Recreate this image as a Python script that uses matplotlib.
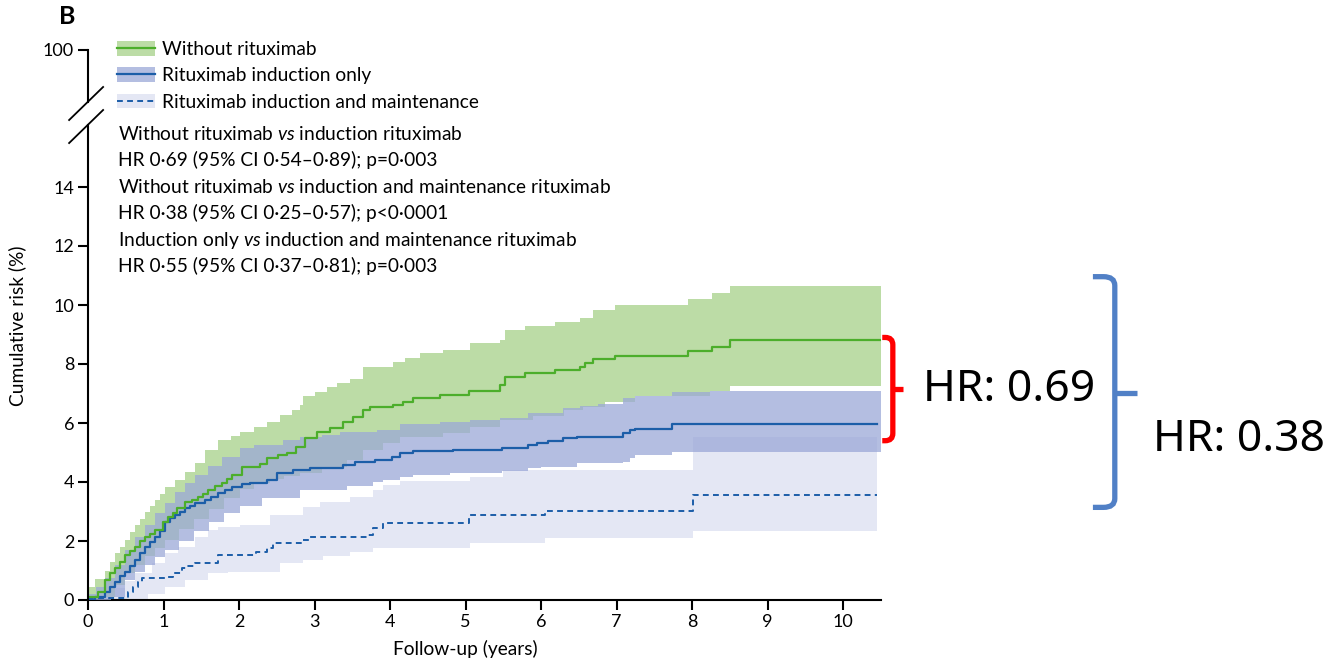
import numpy as np
import matplotlib.pyplot as plt
from matplotlib.lines import Line2D
from matplotlib.patches import Patch, PathPatch
from matplotlib.path import Path

plt.rcParams['font.family'] = 'Lato'
plt.rcParams['mathtext.fontset'] = 'custom'
plt.rcParams['mathtext.rm'] = 'Lato'
plt.rcParams['mathtext.it'] = 'Lato:italic'

# Cumulative risk (%) step curves, follow-up in years
no_rtx_t = [0, 0.13, 0.22, 0.29, 0.36, 0.42, 0.49, 0.56, 0.62, 0.69, 0.75, 0.82, 0.89, 0.99, 1.06,
            1.12, 1.18, 1.28, 1.38, 1.46, 1.52, 1.59, 1.68, 1.77, 1.84, 1.91, 2.04, 2.28, 2.37, 2.52,
            2.63, 2.76, 2.87, 3.03, 3.2, 3.38, 3.51, 3.64, 3.73, 4.04, 4.17, 4.3, 4.66, 5.04, 5.46,
            5.52, 5.79, 6.19, 6.52, 6.58, 6.69, 6.98, 7.95, 8.26, 8.5, 10.5]
no_rtx_v = [0.1, 0.28, 0.68, 0.9, 1.08, 1.3, 1.53, 1.65, 1.8, 2.0, 2.14, 2.25, 2.37, 2.64, 2.81,
            2.95, 3.12, 3.32, 3.4, 3.49, 3.6, 3.73, 3.85, 3.97, 4.1, 4.24, 4.51, 4.6, 4.8, 4.9,
            5.0, 5.2, 5.5, 5.7, 5.83, 6.03, 6.2, 6.44, 6.53, 6.6, 6.7, 6.84, 6.95, 7.1, 7.3,
            7.56, 7.7, 7.8, 7.9, 8.03, 8.17, 8.27, 8.44, 8.58, 8.8, 8.8]
no_rtx_hi_t = [0, 0.09, 0.22, 0.29, 0.36, 0.42, 0.49, 0.56, 0.62, 0.69, 0.75, 0.82, 0.89, 0.95, 1.02,
               1.15, 1.28, 1.42, 1.55, 1.72, 1.9, 2.01, 2.2, 2.37, 2.54, 2.7, 2.81, 2.85, 3.0, 3.16,
               3.3, 3.47, 3.64, 4.04, 4.2, 4.4, 4.7, 5.06, 5.46, 5.52, 5.79, 6.19, 6.52, 6.69, 6.98,
               7.95, 8.26, 8.5, 10.5]
no_rtx_hi_v = [0.45, 0.7, 1.0, 1.3, 1.58, 1.8, 2.03, 2.3, 2.54, 2.75, 2.98, 3.2, 3.39, 3.6, 3.83,
               4.07, 4.35, 4.63, 5.08, 5.42, 5.55, 5.7, 5.85, 6.03, 6.27, 6.45, 6.6, 6.9, 7.05, 7.22,
               7.35, 7.5, 7.9, 8.07, 8.2, 8.37, 8.47, 8.7, 8.8, 9.15, 9.3, 9.42, 9.55, 9.83, 10.0,
               10.2, 10.4, 10.64, 10.64]
no_rtx_lo_t = [0, 0.2, 0.36, 0.49, 0.62, 0.75, 0.89, 1.02, 1.2, 1.4, 1.6, 1.8, 2.01, 2.2, 2.41, 2.6,
               2.81, 3.1, 3.43, 3.64, 3.91, 4.13, 4.7, 5.06, 5.46, 5.9, 6.3, 6.55, 6.85, 7.25, 8.24,
               8.5, 10.5]
no_rtx_lo_v = [0, 0.1, 0.5, 0.9, 1.2, 1.5, 1.75, 2.03, 2.4, 2.75, 3.1, 3.45, 3.75, 3.95, 4.1, 4.2,
               4.3, 4.5, 4.75, 5.08, 5.31, 5.53, 5.66, 5.87, 6.1, 6.24, 6.44, 6.55, 6.7, 6.9, 7.09,
               7.25, 7.25]

ind_t = [0, 0.09, 0.22, 0.29, 0.36, 0.42, 0.49, 0.56, 0.62, 0.69, 0.75, 0.82, 0.89, 0.95, 1.02,
         1.09, 1.15, 1.22, 1.28, 1.35, 1.42, 1.55, 1.63, 1.72, 1.82, 1.91, 2.04, 2.15, 2.37, 2.5,
         2.72, 2.94, 3.38, 3.54, 3.8, 4.02, 4.13, 4.3, 4.83, 5.48, 5.83, 5.95, 6.09, 6.29, 6.48,
         7.09, 7.18, 7.25, 7.73, 10.45]
ind_v = [0, 0.1, 0.27, 0.45, 0.62, 0.8, 0.96, 1.15, 1.36, 1.6, 1.81, 1.95, 2.14, 2.35, 2.64,
         2.77, 2.88, 2.98, 3.12, 3.2, 3.28, 3.39, 3.5, 3.62, 3.72, 3.83, 3.93, 3.96, 4.07, 4.3,
         4.4, 4.46, 4.57, 4.68, 4.75, 4.85, 4.97, 5.05, 5.1, 5.15, 5.25, 5.33, 5.4, 5.48, 5.54,
         5.65, 5.76, 5.8, 5.96, 5.96]
ind_hi_t = [0, 0.1, 0.22, 0.36, 0.49, 0.62, 0.75, 0.89, 1.02, 1.15, 1.28, 1.42, 1.59, 1.77, 2.01, 2.2,
            2.58, 2.81, 3.1, 3.34, 3.83, 4.13, 4.66, 5.06, 5.46, 5.83, 6.29, 6.52, 6.75, 7.09, 7.25,
            7.73, 8.24, 10.5]
ind_hi_v = [0.2, 0.45, 0.75, 1.2, 1.7, 2.15, 2.55, 2.95, 3.3, 3.65, 3.95, 4.25, 4.55, 4.85, 5.15, 5.25,
            5.42, 5.53, 5.6, 5.7, 5.76, 5.97, 6.03, 6.1, 6.16, 6.33, 6.5, 6.57, 6.65, 6.84, 6.9,
            7.05, 7.09, 7.09]
ind_lo_t = [0, 0.3, 0.49, 0.62, 0.75, 0.89, 1.02, 1.2, 1.4, 1.6, 1.8, 2.01, 2.3, 2.81, 3.43, 3.77,
            3.91, 4.13, 4.3, 4.79, 5.48, 5.83, 6.0, 6.48, 7.09, 7.18, 7.25, 7.73, 10.5]
ind_lo_v = [0, 0.1, 0.68, 0.95, 1.2, 1.45, 1.7, 2.0, 2.35, 2.65, 2.95, 3.2, 3.45, 3.73, 3.86, 4.0,
            4.07, 4.18, 4.24, 4.3, 4.37, 4.47, 4.52, 4.65, 4.68, 4.8, 4.9, 5.02, 5.02]

maint_t = [0, 0.53, 0.6, 0.66, 0.72, 1.05, 1.12, 1.25, 1.3, 1.42, 1.72, 2.23, 2.37, 2.45, 2.85, 2.94,
           3.69, 3.78, 3.91, 5.04, 6.05, 8.01, 10.45]
maint_v = [0.07, 0.27, 0.45, 0.62, 0.73, 0.78, 0.9, 1.08, 1.14, 1.25, 1.53, 1.64, 1.75, 1.93, 2.03,
           2.12, 2.2, 2.44, 2.6, 2.88, 3.02, 3.56, 3.56]
maint_hi_t = [0.1, 0.3, 0.49, 0.62, 0.85, 1.02, 1.19, 1.42, 1.59, 1.72, 2.01, 2.41, 2.85, 3.07, 3.47,
              3.78, 3.91, 4.13, 5.06, 5.5, 8.01, 10.45]
maint_hi_v = [0.1, 0.4, 0.65, 0.9, 1.25, 1.58, 1.81, 2.14, 2.37, 2.49, 2.54, 2.88, 3.16, 3.33, 3.5,
              3.73, 3.9, 4.05, 4.17, 4.4, 5.53, 5.53]
maint_lo_t = [0.1, 0.49, 0.8, 1.02, 1.28, 1.59, 1.85, 2.01, 2.54, 2.85, 3.11, 3.47, 3.78, 5.06, 6.05,
              8.01, 10.45]
maint_lo_v = [0, 0.0, 0.2, 0.45, 0.68, 0.9, 0.95, 0.95, 1.25, 1.36, 1.49, 1.64, 1.75, 1.93, 2.1,
              2.34, 2.34]

series_labels = ['Without rituximab', 'Rituximab induction only', 'Rituximab induction and maintenance']
hr_lines = [
    'Without rituximab $\\mathit{vs}$ induction rituximab',
    'HR 0·69 (95% CI 0·54–0·89); p=0·003',
    'Without rituximab $\\mathit{vs}$ induction and maintenance rituximab',
    'HR 0·38 (95% CI 0·25–0·57); p<0·0001',
    'Induction only $\\mathit{vs}$ induction and maintenance rituximab',
    'HR 0·55 (95% CI 0·37–0·81); p=0·003',
]
y_ticks = [0, 2, 4, 6, 8, 10, 12, 14]
x_ticks = list(range(11))

green_line = '#4cae2b'
green_band = '#bcdca6'
blue_line = '#1c5ea8'
blue_band = '#9ba8d7'
light_band = '#e4e7f4'
text_size = 13.8


def step_at(t, v, grid):
    idx = np.searchsorted(t, grid, side='right') - 1
    idx = np.clip(idx, 0, len(v) - 1)
    return np.asarray(v)[idx]


def band(ax, t_hi, v_hi, t_lo, v_lo, **kw):
    grid = np.union1d(t_hi, t_lo)
    ax.fill_between(grid, step_at(t_lo, v_lo, grid), step_at(t_hi, v_hi, grid),
                    step='post', linewidth=0, **kw)


fig = plt.figure(figsize=(13.32, 6.62), dpi=100)
px_year = 75.5
px_unit = 29.5
x_max = 10.5
y_max = 19.0
ax = fig.add_axes([88 / 1332, 62 / 662, x_max * px_year / 1332, y_max * px_unit / 662])

band(ax, maint_hi_t, maint_hi_v, maint_lo_t, maint_lo_v, color=light_band, zorder=1)
band(ax, no_rtx_hi_t, no_rtx_hi_v, no_rtx_lo_t, no_rtx_lo_v, color=green_band, zorder=2)
band(ax, ind_hi_t, ind_hi_v, ind_lo_t, ind_lo_v, color=blue_band, alpha=0.75, zorder=3)

ax.step(maint_t, maint_v, where='post', color=blue_line, lw=1.4, ls=(0, (3, 2.2)), zorder=4)
ax.step(ind_t, ind_v, where='post', color=blue_line, lw=1.6, zorder=5)
ax.step(no_rtx_t, no_rtx_v, where='post', color=green_line, lw=1.6, zorder=6)

ax.set_xlim(0, x_max)
ax.set_ylim(0, y_max)

# broken y axis: 0-14 and a single 100 tick on top
top_tick = (600 - 50) / px_unit
ax.set_yticks(y_ticks + [top_tick])
ax.set_yticklabels([str(v) for v in y_ticks] + ['100'])
ax.set_xticks(x_ticks)
ax.tick_params(direction='out', length=7, width=1.5, labelsize=13, pad=3)
for side in ['top', 'right', 'left']:
    ax.spines[side].set_visible(False)
ax.spines['bottom'].set_linewidth(1.5)
ax.plot([0, 0], [0, 16.1], color='black', lw=1.5, clip_on=False, zorder=7)
ax.plot([0, 0], [16.88, top_tick], color='black', lw=1.5, clip_on=False, zorder=7)
ax.plot([-0.25, 0.2], [16.27, 17.39], color='black', lw=1.3, clip_on=False)
ax.plot([-0.25, 0.2], [15.49, 16.61], color='black', lw=1.3, clip_on=False)

ax.set_xlabel('Follow-up (years)', fontsize=text_size)
ax.xaxis.set_label_coords(5 / x_max, -0.072)
ax.set_ylabel('Cumulative risk (%)', fontsize=text_size)
ax.yaxis.set_label_coords(-0.078, 0.49)

handles = [
    (Patch(facecolor=green_band, edgecolor='none'), Line2D([], [], color=green_line, lw=1.6)),
    (Patch(facecolor='#b4bee1', edgecolor='none'), Line2D([], [], color=blue_line, lw=1.6)),
    (Patch(facecolor=light_band, edgecolor='none'), Line2D([], [], color=blue_line, lw=1.4, ls=(0, (3, 2.2)))),
]
ax.legend(handles, series_labels, loc='upper left', bbox_to_anchor=(117 / 1332, 1 - 41 / 662),
          bbox_transform=fig.transFigure, frameon=False, fontsize=text_size, handlelength=2.0,
          handleheight=0.8, handletextpad=0.33, labelspacing=0.49, borderaxespad=0, borderpad=0)

for i, line in enumerate(hr_lines):
    fig.text(118 / 1332, 1 - (140 + 26.4 * i) / 662, line, fontsize=text_size, va='baseline')

fig.text(59 / 1332, 1 - 17 / 662, 'B', fontsize=18, fontweight='bold', va='center')


# brackets linking the curve ends to their hazard ratios
def bracket(x0, xv, x_stub, top, bottom, mid, color, rx, ry):
    verts = [(x0, top), (xv - rx, top), (xv, top), (xv, top - ry), (xv, bottom + ry),
             (xv, bottom), (xv - rx, bottom), (x0, bottom)]
    codes = [Path.MOVETO, Path.LINETO, Path.CURVE3, Path.CURVE3, Path.LINETO,
             Path.CURVE3, Path.CURVE3, Path.LINETO]
    ax.add_patch(PathPatch(Path(verts, codes), fill=False, edgecolor=color, lw=3.8,
                           capstyle='butt', clip_on=False))
    ax.plot([xv, x_stub], [mid, mid], color=color, lw=3.8, solid_capstyle='butt', clip_on=False)


bracket(10.52, 10.66, 10.79, 8.9, 5.4, 7.15, '#ff0000', 0.1, 0.25)
bracket(13.31, 13.6, 13.89, 10.96, 3.14, 7.02, '#5180c6', 0.15, 0.3)

ax.text(11.06, 7.12, 'HR: 0.69', fontsize=32, family='Noto Sans', va='center', clip_on=False)
ax.text(14.1, 5.42, 'HR: 0.38', fontsize=32, family='Noto Sans', va='center', clip_on=False)

fig.savefig('out.png', dpi=100)
